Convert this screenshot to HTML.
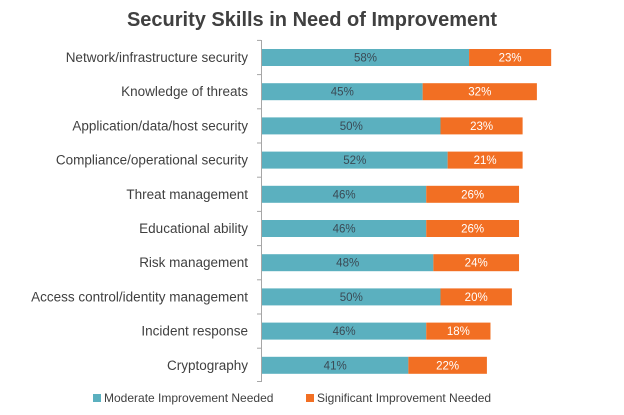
<!DOCTYPE html>
<html><head><meta charset="utf-8"><style>
body{margin:0;background:#fff;}
svg text{font-family:"Liberation Sans",sans-serif;}
.l{font-size:13.5px;fill:#404040;text-anchor:end}
.p{font-size:11.5px;fill:#3a4a55;text-anchor:middle}
.q{font-size:11.5px;fill:#fff;text-anchor:middle}
.t{fill:#5bb0bf}.o{fill:#f26f23}
</style></head><body>
<svg width="624" height="410" xmlns="http://www.w3.org/2000/svg">
<text x="312" y="26" text-anchor="middle" font-size="20" font-weight="bold" fill="#404040">Security Skills in Need of Improvement</text>
<g stroke="#a6a6a6">
<line x1="261.5" y1="40" x2="261.5" y2="382"/>
<line x1="257" x2="261" y1="40.4" y2="40.4"/><line x1="257" x2="261" y1="74.6" y2="74.6"/><line x1="257" x2="261" y1="108.8" y2="108.8"/><line x1="257" x2="261" y1="143" y2="143"/><line x1="257" x2="261" y1="177.2" y2="177.2"/><line x1="257" x2="261" y1="211.4" y2="211.4"/><line x1="257" x2="261" y1="245.6" y2="245.6"/><line x1="257" x2="261" y1="279.8" y2="279.8"/><line x1="257" x2="261" y1="314" y2="314"/><line x1="257" x2="261" y1="348.2" y2="348.2"/><line x1="257" x2="261" y1="381.5" y2="381.5"/>
</g>
<text class="l" x="248" y="62">Network/infrastructure security</text>
<rect class="t" x="262" y="49" width="207.06" height="17"/><rect class="o" x="469.06" y="49" width="82.11" height="17"/>
<text class="p" x="365.5" y="61.5">58%</text><text class="q" x="510.1" y="61.5">23%</text>

<text class="l" x="248" y="96.2">Knowledge of threats</text>
<rect class="t" x="262" y="83.2" width="160.65" height="17"/><rect class="o" x="422.65" y="83.2" width="114.24" height="17"/>
<text class="p" x="342.3" y="95.7">45%</text><text class="q" x="479.8" y="95.7">32%</text>

<text class="l" x="248" y="130.4">Application/data/host security</text>
<rect class="t" x="262" y="117.4" width="178.5" height="17"/><rect class="o" x="440.5" y="117.4" width="82.11" height="17"/>
<text class="p" x="351.3" y="129.9">50%</text><text class="q" x="481.6" y="129.9">23%</text>

<text class="l" x="248" y="164.6">Compliance/operational security</text>
<rect class="t" x="262" y="151.6" width="185.64" height="17"/><rect class="o" x="447.64" y="151.6" width="74.97" height="17"/>
<text class="p" x="354.8" y="164.1">52%</text><text class="q" x="485.1" y="164.1">21%</text>

<text class="l" x="248" y="198.8">Threat management</text>
<rect class="t" x="262" y="185.8" width="164.22" height="17"/><rect class="o" x="426.22" y="185.8" width="92.82" height="17"/>
<text class="p" x="344.1" y="198.3">46%</text><text class="q" x="472.6" y="198.3">26%</text>

<text class="l" x="248" y="233">Educational ability</text>
<rect class="t" x="262" y="220" width="164.22" height="17"/><rect class="o" x="426.22" y="220" width="92.82" height="17"/>
<text class="p" x="344.1" y="232.5">46%</text><text class="q" x="472.6" y="232.5">26%</text>

<text class="l" x="248" y="267.2">Risk management</text>
<rect class="t" x="262" y="254.2" width="171.36" height="17"/><rect class="o" x="433.36" y="254.2" width="85.68" height="17"/>
<text class="p" x="347.7" y="266.7">48%</text><text class="q" x="476.2" y="266.7">24%</text>

<text class="l" x="248" y="301.4">Access control/identity management</text>
<rect class="t" x="262" y="288.4" width="178.5" height="17"/><rect class="o" x="440.5" y="288.4" width="71.4" height="17"/>
<text class="p" x="351.3" y="300.9">50%</text><text class="q" x="476.2" y="300.9">20%</text>

<text class="l" x="248" y="335.6">Incident response</text>
<rect class="t" x="262" y="322.6" width="164.22" height="17"/><rect class="o" x="426.22" y="322.6" width="64.26" height="17"/>
<text class="p" x="344.1" y="335.1">46%</text><text class="q" x="458.4" y="335.1">18%</text>

<text class="l" x="248" y="369.8">Cryptography</text>
<rect class="t" x="262" y="356.8" width="146.37" height="17"/><rect class="o" x="408.37" y="356.8" width="78.54" height="17"/>
<text class="p" x="335.2" y="369.3">41%</text><text class="q" x="447.6" y="369.3">22%</text>

<rect x="93" y="394" width="8" height="8" fill="#5bb0bf"/>
<text x="104" y="402" font-size="12" fill="#404040">Moderate Improvement Needed</text>
<rect x="306" y="394" width="8" height="8" fill="#f26f23"/>
<text x="317" y="402" font-size="12" fill="#404040">Significant Improvement Needed</text>
</svg>
</body></html>
